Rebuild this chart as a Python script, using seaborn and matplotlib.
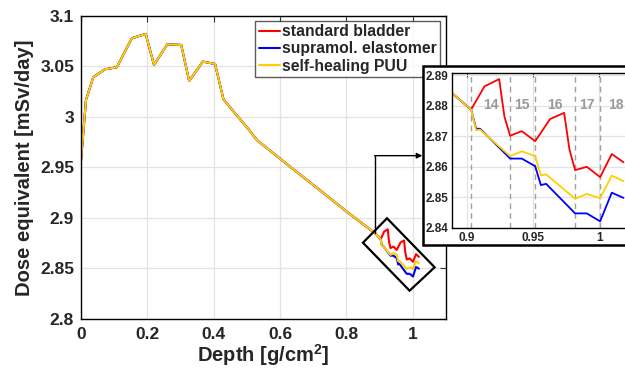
import numpy as np
import pandas as pd
import matplotlib
matplotlib.use("Agg")
import matplotlib.pyplot as plt
import seaborn as sns
from matplotlib.patches import Rectangle, Polygon

# ---------------- data ----------------
depth_common = [0.0, 0.015, 0.037, 0.072, 0.108, 0.153, 0.195, 0.220, 0.260, 0.302,
                0.326, 0.367, 0.404, 0.429, 0.449, 0.505, 0.530, 0.570, 0.630, 0.720,
                0.800, 0.8887, 0.9032]
dose_common = [2.9567, 3.0168, 3.0393, 3.0472, 3.0492, 3.0779, 3.0822, 3.0515, 3.0720, 3.0713,
               3.0356, 3.0548, 3.0525, 3.0178, 3.0096, 2.9878, 2.9772, 2.9666, 2.9508, 2.9275,
               2.9065, 2.8842, 2.8788]

red_depth = [0.9133, 0.9244, 0.9284, 0.9327, 0.9415, 0.9516, 0.9629, 0.9735, 0.9775,
             0.9818, 0.9906, 1.0007, 1.0095, 1.0183]
red_dose = [2.8864, 2.8888, 2.8764, 2.8702, 2.8717, 2.8684, 2.8757, 2.8777, 2.8657,
            2.8589, 2.8600, 2.8566, 2.8642, 2.8615]

by_depth = [0.907, 0.910, 0.9327, 0.9415, 0.9516, 0.9559, 0.9599, 0.9818, 0.9906,
            1.0007, 1.0095, 1.0183]
blue_dose = [2.8725, 2.8725, 2.8627, 2.8627, 2.8602, 2.8540, 2.8544, 2.8447, 2.8447,
             2.8421, 2.8515, 2.8498]
yellow_dose = [2.8720, 2.8722, 2.8635, 2.8651, 2.8635, 2.8572, 2.8575, 2.8495, 2.8511,
               2.8497, 2.8571, 2.8553]

series_names = ["standard bladder", "supramol. elastomer", "self-healing PUU"]
series_colors = ["#ff0000", "#0000ff", "#ffd000"]

layer_bounds = [0.9032, 0.9327, 0.9518, 0.9820, 1.0007]
layer_label_x = [0.9180, 0.9417, 0.9662, 0.9908, 1.0125]
layer_labels = ["14", "15", "16", "17", "18"]

main_xticks = [0, 0.2, 0.4, 0.6, 0.8, 1.0]
main_xticklabels = ["0", "0.2", "0.4", "0.6", "0.8", "1"]
main_yticks = [2.8, 2.85, 2.9, 2.95, 3.0, 3.05, 3.1]
main_yticklabels = ["2.8", "2.85", "2.9", "2.95", "3", "3.05", "3.1"]
in_xticks = [0.9, 0.95, 1.0]
in_xticklabels = ["0.9", "0.95", "1"]
in_yticks = [2.84, 2.85, 2.86, 2.87, 2.88, 2.89]
in_yticklabels = ["2.84", "2.85", "2.86", "2.87", "2.88", "2.89"]

# ---------------- long table ----------------
frames = []
tails = [(red_depth, red_dose), (by_depth, blue_dose), (by_depth, yellow_dose)]
for name, (td, tv) in zip(series_names, tails):
    frames.append(pd.DataFrame({"depth": depth_common + list(td),
                                "dose": dose_common + list(tv),
                                "series": name}))
df = pd.concat(frames, ignore_index=True)
palette = dict(zip(series_names, series_colors))

# ---------------- style ----------------
sns.set_style("white")
plt.rcParams["font.family"] = ["Liberation Sans", "DejaVu Sans"]
plt.rcParams["font.weight"] = "bold"
plt.rcParams["mathtext.fontset"] = "custom"
plt.rcParams["mathtext.rm"] = "Liberation Sans:bold"
plt.rcParams["mathtext.bf"] = "Liberation Sans:bold"

fig = plt.figure(figsize=(6.25, 3.68), dpi=100)
ax = fig.add_axes([0.1296, 0.1332, 0.584, 0.8234])

sns.lineplot(data=df, x="depth", y="dose", hue="series", hue_order=series_names,
             palette=palette, estimator=None, sort=False, lw=1.5, ax=ax, legend=False)

ax.set_xlim(0, 1.1)
ax.set_ylim(2.8, 3.1)
ax.set_xticks(main_xticks)
ax.set_xticklabels(main_xticklabels)
ax.set_yticks(main_yticks)
ax.set_yticklabels(main_yticklabels)
ax.grid(True, color="#e3e3e3", lw=0.9)
ax.set_axisbelow(True)
ax.tick_params(direction="in", length=4, width=0.8, top=True, right=True,
               labelsize=12.5, color="#333333")
ax.tick_params(axis="x", pad=6)
ax.tick_params(axis="y", pad=5)
for lab in ax.get_xticklabels() + ax.get_yticklabels():
    lab.set_fontweight("bold")
for s in ax.spines.values():
    s.set_color("black")
    s.set_linewidth(1.0)
ax.set_xlabel(r"Depth [g/cm$^{\mathbf{2}}$]", fontsize=14.5, fontweight="bold", labelpad=0)
ax.set_ylabel("Dose equivalent [mSv/day]", fontsize=14.5, fontweight="bold", labelpad=4)

handles = [plt.Line2D([], [], color=c, lw=1.5) for c in series_colors]
leg = ax.legend(handles, series_names, loc="upper right", bbox_to_anchor=(0.9836, 0.9835),
                borderaxespad=0, fancybox=False, handlelength=1.35, handletextpad=0.15,
                labelspacing=0.15, borderpad=0.2,
                prop={"family": "Liberation Sans", "weight": "bold", "size": 11.3})
leg.get_frame().set_edgecolor("#333333")
leg.get_frame().set_linewidth(1.0)
leg.set_zorder(5)

# zoom marker rectangle (tilted) and connector arrow
rect_pts = [(0.8498, 2.8755), (0.9222, 2.8997), (1.0658, 2.8512), (0.9903, 2.8280)]
ax.add_patch(Polygon(rect_pts, closed=True, fill=False, ec="black", lw=1.6,
                     clip_on=False, zorder=6))
ax.plot([0.8848, 0.8848], [2.8851, 2.9617], color="black", lw=1.0, zorder=6)
ax.annotate("", xy=(1.0287, 2.9617), xytext=(0.8848, 2.9617),
            arrowprops=dict(arrowstyle="-|>", color="black", lw=1.0,
                            mutation_scale=8, shrinkA=0, shrinkB=0), zorder=6)

# outer white box behind inset
box = Rectangle((423 / 625, 1 - 245 / 368), 0.4, (245 - 66) / 368,
                transform=fig.transFigure, facecolor="white", edgecolor="black",
                lw=1.8, zorder=10)
fig.patches.append(box)

# ---------------- inset ----------------
axin = fig.add_axes([452.3 / 625, 1 - 227.7 / 368, 0.288, (227.7 - 73.3) / 368])
axin.set_zorder(11)
sns.lineplot(data=df, x="depth", y="dose", hue="series", hue_order=series_names,
             palette=palette, estimator=None, sort=False, lw=1.3, ax=axin, legend=False)
axin.set_xlim(0.889, 1.025)
axin.set_ylim(2.84, 2.8907)
axin.set_xticks(in_xticks)
axin.set_xticklabels(in_xticklabels)
axin.set_yticks(in_yticks)
axin.set_yticklabels(in_yticklabels)
axin.grid(True, color="#e3e3e3", lw=0.9)
axin.set_axisbelow(True)
axin.tick_params(direction="in", length=3, width=0.8, top=True, right=True,
                 labelsize=8.5, pad=3, color="#333333")
for lab in axin.get_xticklabels() + axin.get_yticklabels():
    lab.set_fontweight("bold")
for s in axin.spines.values():
    s.set_color("black")
    s.set_linewidth(1.0)
axin.set_xlabel("")
axin.set_ylabel("")
for xb in layer_bounds:
    axin.axvline(xb, color="#a0a0a0", lw=1.0, ls=(0, (4, 3)), zorder=1)
for xl, t in zip(layer_label_x, layer_labels):
    axin.text(xl, 2.8802, t, color="#999999", fontsize=10, fontweight="bold",
              ha="center", va="center")

fig.savefig("out.png", dpi=100)
